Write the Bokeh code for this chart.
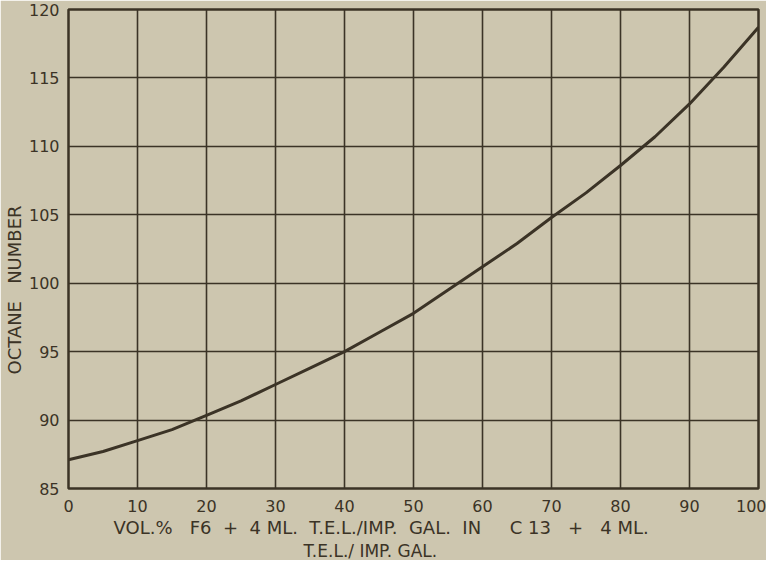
from bokeh.plotting import figure
from bokeh.models import FixedTicker, Range1d, Title
from bokeh.embed import file_html
from bokeh.resources import INLINE

# data
vol_pct = [0, 5, 10, 15, 20, 25, 30, 35, 40, 45, 50, 55, 60, 65, 70, 75, 80, 85, 90, 95, 100]
octane = [87.1, 87.7, 88.5, 89.3, 90.35, 91.4, 92.6, 93.8, 95.0, 96.4, 97.8, 99.5,
          101.2, 102.9, 104.8, 106.6, 108.6, 110.7, 113.1, 115.8, 118.7]
x_ticks = [0, 10, 20, 30, 40, 50, 60, 70, 80, 90, 100]
y_ticks = [85, 90, 95, 100, 105, 110, 115, 120]
NB = "\u00a0"
x_title_1 = ("VOL.%" + NB * 3 + "F6" + NB * 2 + "+" + NB * 2 + "4" + NB + "ML." + NB * 2 + "T.E.L./IMP."
             + NB * 2 + "GAL." + NB * 2 + "IN" + NB * 5 + "C" + NB + "13" + NB * 3 + "+" + NB * 3 + "4" + NB
             + "ML.")
x_title_2 = "T.E.L./" + NB + "IMP." + NB + "GAL."
y_title = "OCTANE" + NB * 3 + "NUMBER"

BG = "#cdc6af"
INK = "#3b3326"
FONT = "DejaVu Sans"

p = figure(width=766, height=560, output_backend="svg", toolbar_location=None,
           x_range=Range1d(0, 100), y_range=Range1d(85, 120),
           min_border_left=64, min_border_right=8, min_border_top=9, min_border_bottom=69)
p.background_fill_color = BG
p.border_fill_color = BG
p.outline_line_color = INK
p.outline_line_width = 2.5

for ax in (p.xaxis[0], p.yaxis[0]):
    ax.axis_line_color = None
    ax.major_tick_line_color = None
    ax.minor_tick_line_color = None
    ax.major_label_text_font = FONT
    ax.major_label_text_color = INK
    ax.major_label_text_font_size = "16px"

p.xaxis.ticker = FixedTicker(ticks=x_ticks)
p.yaxis.ticker = FixedTicker(ticks=y_ticks)
p.xaxis.major_label_standoff = 5
p.yaxis.major_label_standoff = 3

p.xgrid.grid_line_color = INK
p.ygrid.grid_line_color = INK
p.xgrid.grid_line_width = 1.6
p.ygrid.grid_line_width = 1.6

p.line(vol_pct, octane, line_color=INK, line_width=3)

title_style = dict(text_font=FONT, text_color=INK, text_font_style="normal", align="left")
p.add_layout(Title(text=x_title_1, offset=45, standoff=1, text_font_size="18px", **title_style), "below")
p.add_layout(Title(text=x_title_2, offset=235, standoff=0, text_font_size="17px", **title_style), "below")
p.add_layout(Title(text=y_title, offset=114, standoff=2, text_font_size="18px", **title_style), "left")

open("out.html", "w").write(file_html(p, INLINE))
